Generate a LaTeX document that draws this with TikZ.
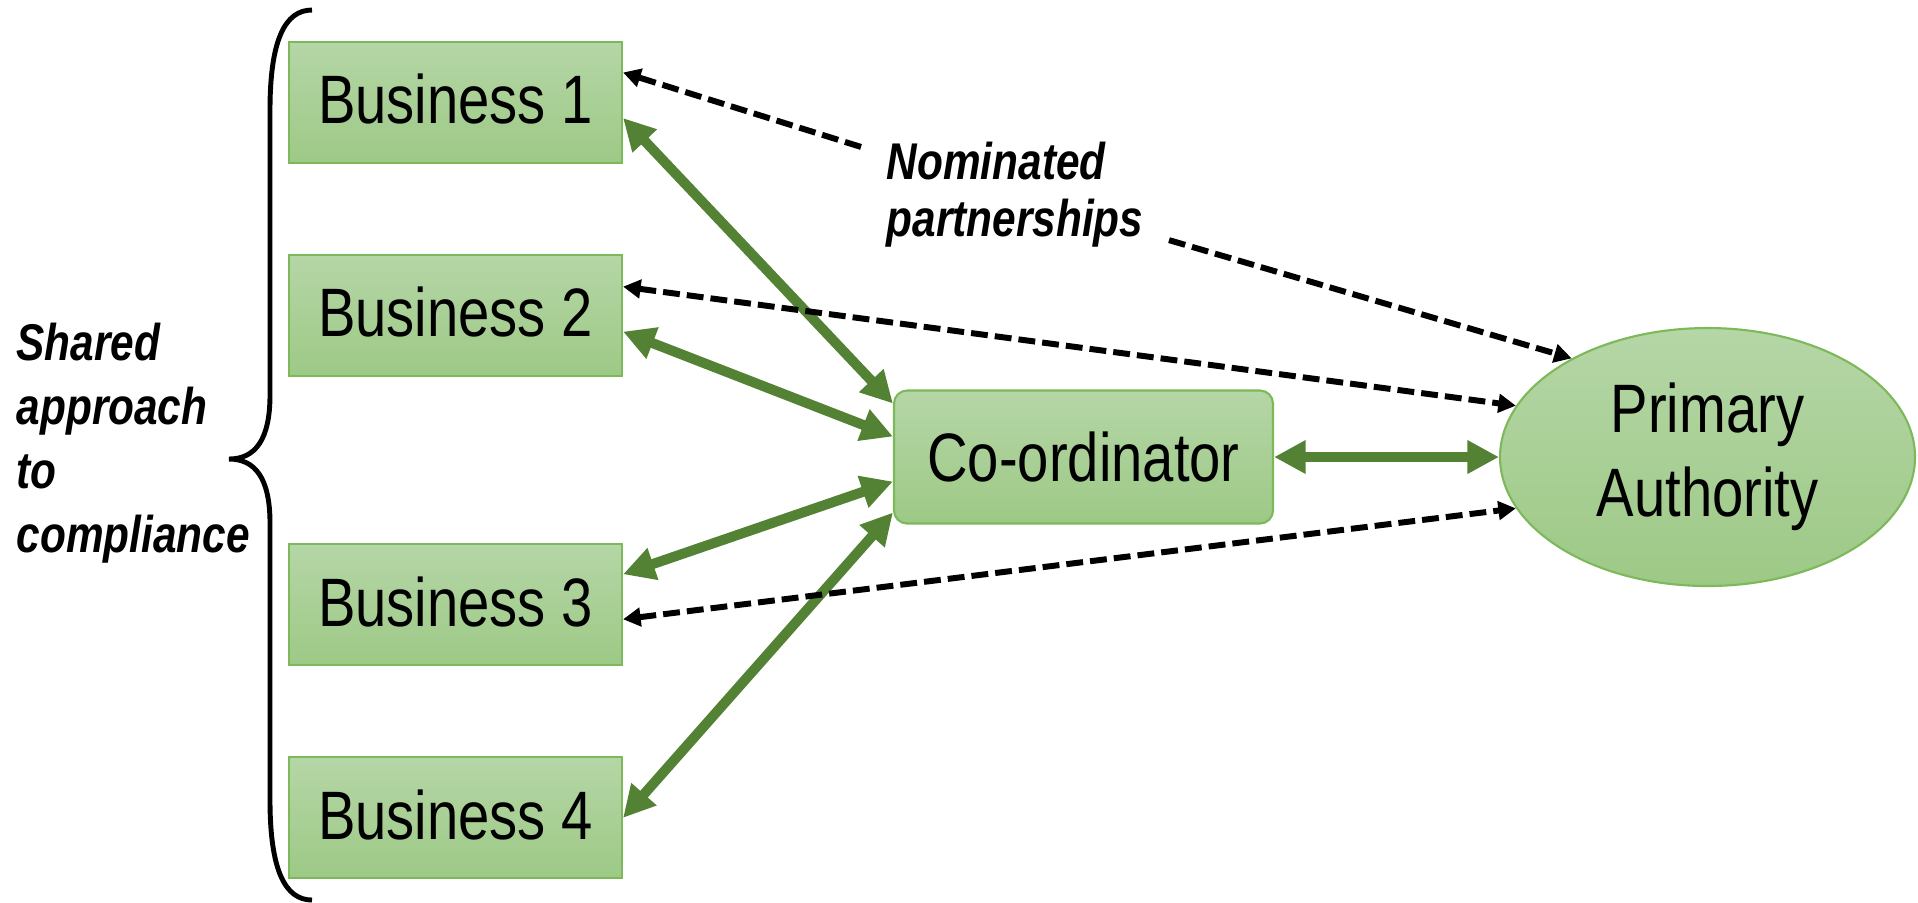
\documentclass[tikz,border=0pt]{standalone}
\usepackage{fontspec}
\setmainfont[FakeStretch=0.82]{Liberation Sans}
\usetikzlibrary{positioning}
\usetikzlibrary{shapes.geometric}
\usetikzlibrary{arrows.meta}

\definecolor{boxtop}{HTML}{B5D6A6}
\definecolor{boxbottom}{HTML}{9DC986}
\definecolor{boxline}{HTML}{7DB85A}
\definecolor{arrowgreen}{HTML}{548235}

\begin{document}
\begin{tikzpicture}[
  node distance=0.9cm and 0.5cm,
  gtip/.tip={Triangle[length=9pt,width=9pt]},
  dtip/.tip={Triangle[length=5pt,width=5.2pt]},
  bizbox/.style={rectangle,draw=boxline,line width=0.6pt,top color=boxtop,bottom color=boxbottom,
    minimum width=3.33cm,minimum height=1.21cm,inner sep=0pt,
    font=\fontsize{19.5}{23.9}\selectfont,text depth=0.2em},
  coordbox/.style={bizbox,rounded corners=0.13cm,minimum width=3.79cm,minimum height=1.33cm,text depth=0pt},
  authority/.style={ellipse,draw=boxline,line width=0.6pt,top color=boxtop,bottom color=boxbottom,
    minimum width=4.15cm,minimum height=2.58cm,inner sep=0pt,align=center,
    font=\fontsize{19.5}{23.9}\selectfont},
  labeltext/.style={font=\fontsize{14.7}{16.2}\selectfont\bfseries\itshape,align=left},
  greenarrow/.style={draw=arrowgreen,line width=2.85pt,gtip-gtip},
  dasharrow/.style={draw=black,line width=1.7pt,dash pattern=on 4.8pt off 2pt}
]
\useasboundingbox (0,0) rectangle (19.18,-9.02);

\node[bizbox] (b1) at (4.555,-1.025) {Business 1};
\node[bizbox,below=0.9cm of b1] (b2) {Business 2};
\node[bizbox,below=1.66cm of b2] (b3) {Business 3};
\node[bizbox,below=0.9cm of b3] (b4) {Business 4};

\node[coordbox] (coord) at (10.835,-4.57) {Co-ordinator};
\node[authority] (pa) at (17.075,-4.57) {Primary\\Authority};

\node[labeltext,inner sep=0.25cm] (nom) at (10.15,-1.95) {Nominated\\partnerships};
\node[labeltext,font=\fontsize{14.7}{18.2}\selectfont\bfseries\itshape,anchor=west,inner sep=0pt]
  (shared) at (0.16,-4.43) {Shared\\approach\\to\\compliance};

% brace round the businesses
\draw[line width=1.4pt] (3.12,-0.10) .. controls (2.85,-0.10) and (2.70,-0.40) .. (2.70,-1.10)
  -- (2.70,-3.95) .. controls (2.70,-4.40) and (2.55,-4.59) .. (2.29,-4.59)
  .. controls (2.55,-4.59) and (2.70,-4.78) .. (2.70,-5.23)
  -- (2.70,-8.00) .. controls (2.70,-8.70) and (2.85,-9.00) .. (3.12,-9.00);

\path ([yshift=-1.55mm]b1.east) edge[greenarrow] ([yshift=5.35mm]coord.west)
([yshift=-1.6mm]b2.east) edge[greenarrow] ([yshift=2.05mm]coord.west)
([yshift=3.05mm]b3.east) edge[greenarrow] ([yshift=-2.45mm]coord.west)
(b4.east) edge[greenarrow] ([yshift=-5.55mm]coord.west)
(coord) edge[greenarrow] (pa);

\path (nom) edge[dasharrow,-dtip] ([yshift=3mm]b1.east)
(nom) edge[dasharrow,-dtip] (pa.144)
([yshift=2.9mm]b2.east) edge[dasharrow,dtip-dtip] (pa.165)
([yshift=-1.45mm]b3.east) edge[dasharrow,dtip-dtip] (pa.195);

\end{tikzpicture}
\end{document}
